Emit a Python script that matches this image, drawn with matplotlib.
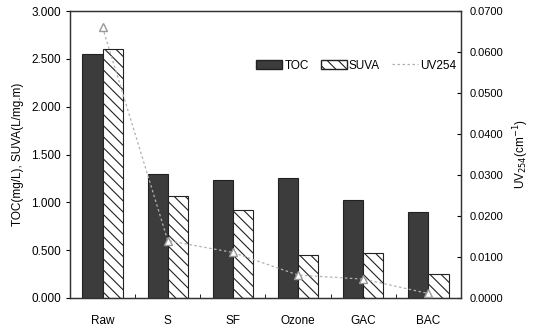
import matplotlib
matplotlib.use("Agg")
import matplotlib.pyplot as plt
import numpy as np
from matplotlib.lines import Line2D
from matplotlib.patches import Patch

plt.rcParams['font.family'] = ['Liberation Sans', 'DejaVu Sans']
plt.rcParams['hatch.linewidth'] = 0.8

categories = ["Raw", "S", "SF", "Ozone", "GAC", "BAC"]
toc = [2.55, 1.30, 1.23, 1.25, 1.02, 0.90]
suva = [2.60, 1.07, 0.92, 0.45, 0.47, 0.25]
uv254 = [0.066, 0.0140, 0.0111, 0.0056, 0.0046, 0.0011]
left_ticks = [0.0, 0.5, 1.0, 1.5, 2.0, 2.5, 3.0]
right_ticks = [0.0, 0.01, 0.02, 0.03, 0.04, 0.05, 0.06, 0.07]

fig = plt.figure(figsize=(5.41, 3.28), dpi=100)
ax = fig.add_axes([70/541, 1-298/328, (461-70)/541, (298-11)/328])
ax2 = ax.twinx()

x = np.arange(len(categories))
w = 0.31
ax.bar(x - w/2, toc, w, color="#3c3c3c", edgecolor="#222222", linewidth=0.8, zorder=2)
ax.bar(x + w/2, suva, w, color="white", edgecolor="#222222", hatch="\\\\\\", linewidth=0.8, zorder=2)

ax.set_xlim(-0.5, len(categories) - 0.5)
ax.set_ylim(0, 3.0)
ax.set_yticks(left_ticks)
ax.set_yticklabels([f"{v:.3f}" for v in left_ticks], fontsize=8.5)
ax.set_xticks(x)
ax.set_xticklabels(categories, fontsize=8.5)
ax.set_xticks(np.arange(len(categories) + 1) - 0.5, minor=True)
ax.tick_params(axis='x', which='major', length=0, pad=12)
ax.tick_params(axis='x', which='minor', length=3, direction='in')
ax.tick_params(axis='y', length=3, direction='out')
ax.set_ylabel("TOC(mg/L), SUVA(L/mg.m)", fontsize=8.5, labelpad=5)

ax2.set_ylim(0, 0.07)
ax2.set_yticks(right_ticks)
ax2.set_yticklabels([f"{v:.4f}" for v in right_ticks], fontsize=8)
ax2.tick_params(axis='y', length=3, direction='in', pad=6)
ax2.set_ylabel("UV$_{254}$(cm$^{-1}$)", fontsize=8.5, labelpad=6)
ax2.plot(x, uv254, color="#b0b0b0", linestyle=(0, (2, 2)), linewidth=0.9,
         marker="^", markersize=6, markerfacecolor="white", markeredgecolor="#999999", zorder=3)
ax.set_zorder(0)
ax2.set_zorder(1)

for a in (ax, ax2):
    for s in a.spines.values():
        s.set_color("#333333")
        s.set_linewidth(0.9)

handles = [Patch(facecolor="#3c3c3c", edgecolor="#222222"),
           Patch(facecolor="white", edgecolor="#222222", hatch="\\\\\\"),
           Line2D([0], [0], color="#b0b0b0", linestyle=(0, (2, 2)), linewidth=0.9)]
ax2.legend(handles, ["TOC", "SUVA", "UV254"], ncol=3, frameon=False, fontsize=8.5,
           loc="center right", bbox_to_anchor=(1.0, 0.81), handlelength=2.2,
           handletextpad=0.2, columnspacing=1.0, borderaxespad=0)

fig.savefig("out.png", dpi=100)
